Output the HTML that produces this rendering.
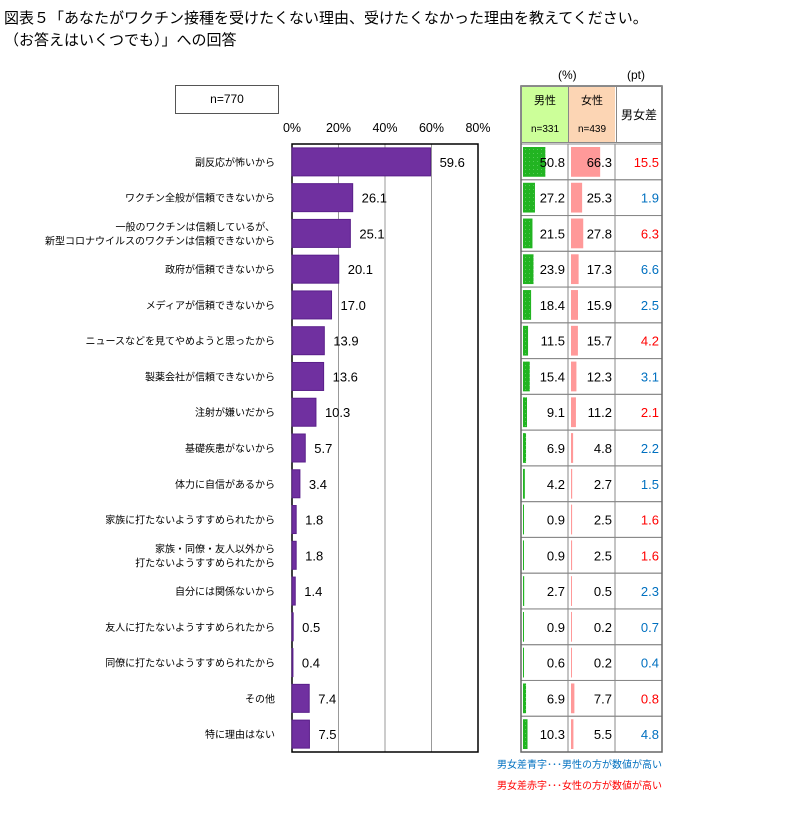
<!DOCTYPE html>
<html><head><meta charset="utf-8"><style>
body{margin:0;width:810px;height:816px;background:#fff;font-family:"Liberation Sans","Noto Sans CJK JP",sans-serif;position:relative;overflow:hidden}
.t{position:absolute;white-space:nowrap}
</style></head><body>
<div class="t" style="left:4px;top:8px;font-size:15px;line-height:22px;color:#000">図表５「あなたがワクチン接種を受けたくない理由、受けたくなかった理由を教えてください。<br>（お答えはいくつでも）」への回答</div>
<div class="t" style="left:175px;top:85px;width:102px;height:27px;border:1px solid #555;font-size:12px;line-height:27px;text-align:center">n=770</div>
<svg id="svg" width="810" height="816" style="position:absolute;left:0;top:0"></svg>
<script>
const categories=["副反応が怖いから","ワクチン全般が信頼できないから","一般のワクチンは信頼しているが、|新型コロナウイルスのワクチンは信頼できないから","政府が信頼できないから","メディアが信頼できないから","ニュースなどを見てやめようと思ったから","製薬会社が信頼できないから","注射が嫌いだから","基礎疾患がないから","体力に自信があるから","家族に打たないようすすめられたから","家族・同僚・友人以外から|打たないようすすめられたから","自分には関係ないから","友人に打たないようすすめられたから","同僚に打たないようすすめられたから","その他","特に理由はない"];
const totalValues=[59.6,26.1,25.1,20.1,17.0,13.9,13.6,10.3,5.7,3.4,1.8,1.8,1.4,0.5,0.4,7.4,7.5];
const maleValues=[50.8,27.2,21.5,23.9,18.4,11.5,15.4,9.1,6.9,4.2,0.9,0.9,2.7,0.9,0.6,6.9,10.3];
const femaleValues=[66.3,25.3,27.8,17.3,15.9,15.7,12.3,11.2,4.8,2.7,2.5,2.5,0.5,0.2,0.2,7.7,5.5];
const diffValues=[15.5,1.9,6.3,6.6,2.5,4.2,3.1,2.1,2.2,1.5,1.6,1.6,2.3,0.7,0.4,0.8,4.8];
const tickLabels=["0%","20%","40%","60%","80%"];
const tickValues=[0,20,40,60,80];
const NS="http://www.w3.org/2000/svg";
const svg=document.getElementById('svg');
function mk(tag,attrs,parent){const e=document.createElementNS(NS,tag);for(const k in attrs)e.setAttribute(k,attrs[k]);(parent||svg).appendChild(e);return e;}
const X0=292,PX=186/80,TOP=144,BOT=752,N=categories.length,RH=(BOT-TOP)/N;
const x=v=>X0+v*PX;
const yc=i=>TOP+RH*(i+0.5);
const defs=mk('defs',{});
defs.innerHTML='<pattern id="dg" width="4" height="4" patternUnits="userSpaceOnUse"><rect width="4" height="4" fill="#22b422"/><rect x="1" y="1" width="1" height="1" fill="#5c5"/></pattern>';
tickValues.forEach((v,i)=>{
 if(v>0&&v<80){const g=mk('line',{x1:x(v),x2:x(v),y1:TOP,y2:BOT,stroke:'#999','stroke-width':1});
 
 }
 const t=mk('text',{x:x(v),y:132,'text-anchor':'middle','font-size':12.5});t.textContent=tickLabels[i];
 
 
});
const frame=mk('rect',{x:X0,y:TOP,width:186,height:BOT-TOP,fill:'none',stroke:'#000','stroke-width':1.5});


categories.forEach((c,i)=>{
 const cy=yc(i);
 const lines=c.split('|');
 lines.forEach((ln,j)=>{
  const t=mk('text',{x:275,y:cy+4+(j-(lines.length-1)/2)*14,'text-anchor':'end','font-size':10});t.textContent=ln;
  
  
 });
 const b=mk('rect',{x:X0,y:cy-14,width:totalValues[i]*PX,height:28,fill:'#7030a0',stroke:'#5a1f8a','stroke-width':1});
 
 
 const v=mk('text',{x:x(totalValues[i])+9,y:cy+5,'font-size':13});v.textContent=totalValues[i].toFixed(1);
 
 
 const ry=TOP+RH*i;
 const cols=[521,568,615,662];
 for(let k=0;k<3;k++){const r=mk('rect',{x:cols[k],y:ry,width:cols[k+1]-cols[k],height:RH,fill:'none',stroke:'#888'});
  
  }
 const gb=mk('rect',{x:523,y:ry+3,width:Math.max(maleValues[i]*0.44,1),height:RH-6,fill:'url(#dg)'});
 
 
 const pb=mk('rect',{x:571,y:ry+3,width:Math.max(femaleValues[i]*0.44,1),height:RH-6,fill:'#ff9999'});
 
 
 const mt=mk('text',{x:565,y:cy+5,'text-anchor':'end','font-size':13});mt.textContent=maleValues[i].toFixed(1);
 
 
 const ft=mk('text',{x:612,y:cy+5,'text-anchor':'end','font-size':13});ft.textContent=femaleValues[i].toFixed(1);
 
 
 const dt=mk('text',{x:659,y:cy+5,'text-anchor':'end','font-size':13,fill:femaleValues[i]>maleValues[i]?'#ff0000':'#0070c0'});dt.textContent=diffValues[i].toFixed(1);
 
 
});
const outer=mk('rect',{x:521,y:86,width:141,height:BOT-86,fill:'none',stroke:'#666','stroke-width':1.5});


</script>
<div class="t" style="left:558px;top:68px;font-size:12px">(%)</div>
<div class="t" style="left:627px;top:68px;font-size:12px">(pt)</div>
<div class="t" style="left:522px;top:87px;width:46px;height:56px;background:#ccff99;font-size:11px;text-align:center"><div style="margin-top:5px">男性</div><div style="margin-top:16px;font-size:10px">n=331</div></div>
<div class="t" style="left:569px;top:87px;width:46px;height:56px;background:#fcd5b4;font-size:11px;text-align:center"><div style="margin-top:5px">女性</div><div style="margin-top:16px;font-size:10px">n=439</div></div>
<div class="t" style="left:616px;top:87px;width:46px;height:56px;font-size:12px;text-align:center;line-height:56px">男女差</div>
<div style="position:absolute;left:521px;top:86px;width:141px;height:57px;box-sizing:border-box;border:1px solid #888"><div style="position:absolute;left:46px;top:0;width:47px;height:100%;border-left:1px solid #888;border-right:1px solid #888"></div></div>
<div class="t" style="left:497px;top:756px;font-size:10px;color:#0070c0">男女差青字･･･男性の方が数値が高い</div>
<div class="t" style="left:497px;top:777px;font-size:10px;color:#ff0000">男女差赤字･･･女性の方が数値が高い</div>
</body></html>
